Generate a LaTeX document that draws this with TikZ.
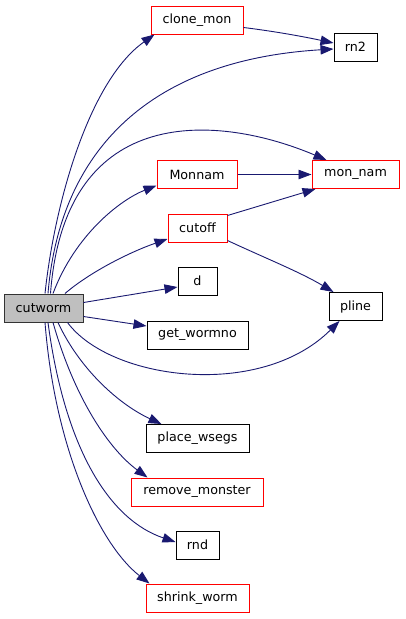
\documentclass[tikz,border=0pt]{standalone}
\usepackage{fontspec}
\newfontfamily\graphfont{DejaVu Sans}
\usetikzlibrary{arrows.meta}
\definecolor{edgeblue}{RGB}{25,25,112}
\definecolor{rootgray}{RGB}{191,191,191}
\definecolor{linkred}{RGB}{255,0,0}

\begin{document}
\begin{tikzpicture}[x=1pt, y=-1pt,
	fn/.style={shape=rectangle, draw=black, line width=1pt, minimum height=28pt, inner sep=0pt, font=\graphfont\fontsize{12.7}{15}\selectfont},
	fnred/.style={fn, draw=linkred},
	fnroot/.style={fn, draw=black!80, fill=rootgray},
	call/.style={draw=edgeblue, line width=0.9pt, -{Triangle[length=13pt, width=9.5pt, fill=edgeblue]}}]
	\useasboundingbox (0,0) rectangle (405,619);
	% Nodes:
	\node[fnroot, minimum width=79pt] (cutworm) at (43.5, 308){cutworm};
	\node[fnred, minimum width=92pt] (clone_mon) at (197, 20){clone\_mon};
	\node[fn, minimum width=43pt] (rn2) at (355.5, 47){rn2};
	\node[fnred, minimum width=80pt] (Monnam) at (197, 174.5){Monnam};
	\node[fnred, minimum width=87pt] (mon_nam) at (355.5, 174.5){mon\_nam};
	\node[fnred, minimum width=59pt] (cutoff) at (197.5, 228){cutoff};
	\node[fn, minimum width=39pt] (d) at (197.5, 281){d};
	\node[fn, minimum width=101pt] (get_wormno) at (197.5, 335){get\_wormno};
	\node[fn, minimum width=53pt] (pline) at (355.5, 306.5){pline};
	\node[fn, minimum width=103pt] (place_wsegs) at (197.5, 438.5){place\_wsegs};
	\node[fnred, minimum width=132pt] (remove_monster) at (197, 492){remove\_monster};
	\node[fn, minimum width=43pt] (rnd) at (197.5, 545){rnd};
	\node[fnred, minimum width=103pt] (shrink_worm) at (197.5, 598){shrink\_worm};
	% Calls:
	\draw[call] ([xshift=1.5pt]cutworm.north) .. controls (55,200) and (90,80) .. ([xshift=4pt]clone_mon.south west);
	\draw[call] ([yshift=-7.5pt]clone_mon.east) .. controls (280,32) and (310,38) .. ([yshift=4pt]rn2.west);
	\draw[call] ([xshift=4.5pt]cutworm.north) .. controls (60,150) and (150,60) .. ([yshift=-2pt]rn2.west);
	\draw[call] ([xshift=7pt]cutworm.north) .. controls (65,100) and (220,115) .. ([xshift=15pt]mon_nam.north west);
	\draw[call] ([xshift=9.5pt]cutworm.north) .. controls (75,235) and (120,200) .. ([yshift=-11pt]Monnam.west);
	\draw[call] (Monnam.east) -- (mon_nam.west);
	\draw[call] ([xshift=21.5pt]cutworm.north) .. controls (90,272) and (130,252) .. ([yshift=-11pt]cutoff.west);
	\draw[call] ([yshift=-2pt]cutoff.north east) -- ([xshift=4pt]mon_nam.south west);
	\draw[call] ([yshift=2pt]cutoff.south east) .. controls (265,258) and (300,272) .. ([xshift=5pt]pline.north west);
	\draw[call] ([yshift=5.5pt]cutworm.east) -- ([yshift=-6pt]d.west);
	\draw[call] ([yshift=-8.5pt]cutworm.east) -- ([yshift=9pt]get_wormno.west);
	\draw[call] ([xshift=-16pt]cutworm.south east) .. controls (110,380) and (260,400) .. ([xshift=11pt]pline.south west);
	\draw[call] ([xshift=14.5pt]cutworm.south) .. controls (80,370) and (120,405) .. ([xshift=16pt]place_wsegs.north west);
	\draw[call] ([xshift=9.5pt]cutworm.south) .. controls (75,400) and (110,450) .. ([xshift=17pt]remove_monster.north west);
	\draw[call] ([xshift=4.5pt]cutworm.south) .. controls (65,450) and (110,520) .. ([yshift=3pt]rnd.west);
	\draw[call] ([xshift=1.5pt]cutworm.south) .. controls (55,450) and (100,545) .. ([xshift=4pt]shrink_worm.north west);
\end{tikzpicture}
\end{document}
